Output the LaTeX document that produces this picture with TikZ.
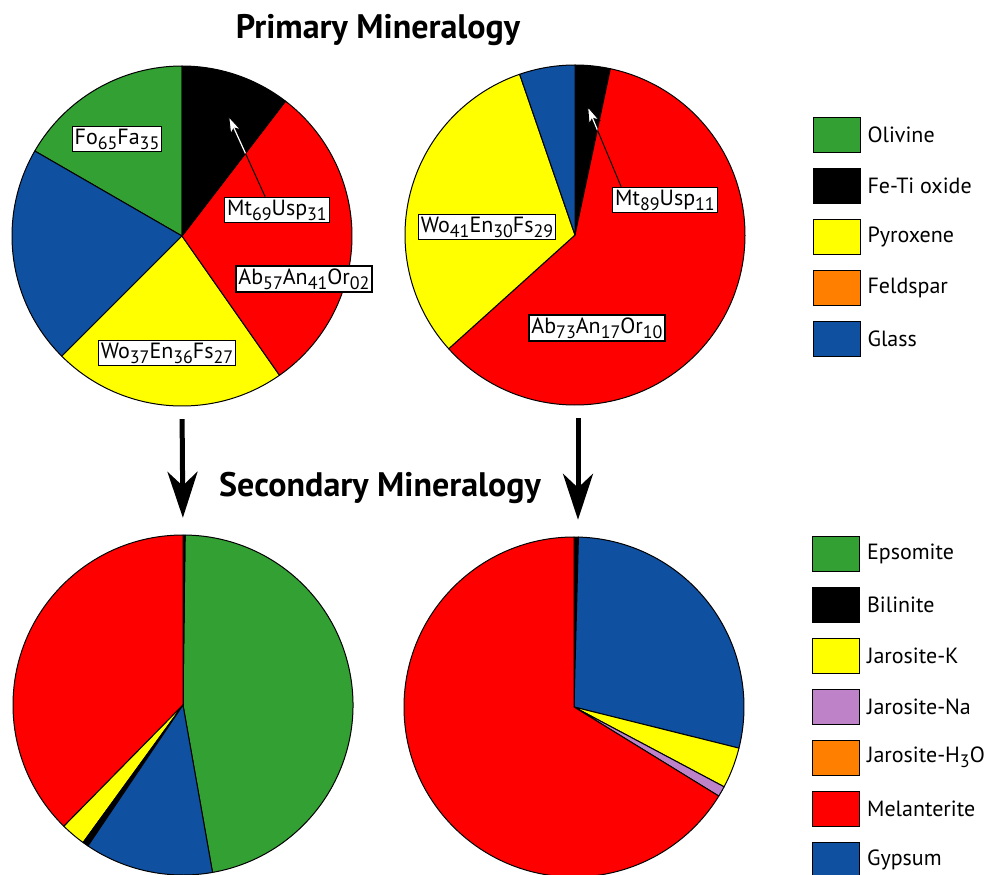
\documentclass[tikz,border=0pt]{standalone}
\usepackage{fontspec}
\setmainfont{PT Sans}
\usepackage{tikz}
\usetikzlibrary{positioning,calc,arrows.meta}
\usepackage{xcolor}

\definecolor{olgreen}{RGB}{51,160,51}
\definecolor{mnred}{RGB}{255,0,0}
\definecolor{pxyellow}{RGB}{255,255,0}
\definecolor{fsorange}{RGB}{255,128,0}
\definecolor{glblue}{RGB}{16,80,160}
\definecolor{jnpurple}{RGB}{190,130,200}

% subscript for mineral formulae
\newcommand{\dn}[1]{\raisebox{-0.45ex}{\fontsize{18}{18}\selectfont #1}}

\begin{document}
\begin{tikzpicture}[x=1pt,y=1pt]
	% styles
	\tikzstyle{slice} = [draw=black,line width=1pt,line join=round]	% pie wedge
	\tikzstyle{piebox} = [circle,minimum size=340pt,inner sep=0pt]	% outline of a pie
	\tikzstyle{formula} = [rectangle,fill=white,draw=black,line width=1.2pt,inner sep=2.5pt,font=\fontsize{22}{22}\selectfont]	% white label
	\tikzstyle{title} = [font=\fontsize{34}{34}\selectfont\bfseries]
	\tikzstyle{legbox} = [rectangle,draw=black,line width=0.8pt,minimum width=47pt,minimum height=35pt,inner sep=0pt]
	\tikzstyle{legtext} = [anchor=west,inner sep=0pt,font=\fontsize{22}{22}\selectfont]
	\tikzstyle{bigarrow} = [line width=5pt,-{Stealth[length=46pt,width=30pt,inset=14pt]}]
	\tikzstyle{pointer} = [line width=1pt,-{Stealth[length=20pt,width=13pt,inset=5pt,fill=white]}]
	\useasboundingbox (0,0) rectangle (997,-875);

	% pies
	\node (p1) [piebox] at (182,-236) {};
	\node (p2) [piebox] at (575,-235) {};
	\node (p3) [piebox] at (183,-705) {};
	\node (p4) [piebox] at (574,-707) {};
	\foreach \a/\b/\c in {90/150/olgreen,150/225/glblue,225/305/pxyellow,305/412.5/mnred,52.5/90/black}
		\draw [slice,fill=\c] (p1.center) -- ++(\a:170) arc (\a:\b:170) -- cycle;
	\foreach \a/\b/\c in {78/90/black,-138/78/mnred,109/222/pxyellow,90/109/glblue}
		\draw [slice,fill=\c] (p2.center) -- ++(\a:170) arc (\a:\b:170) -- cycle;
	\foreach \a/\b/\c in {-80/89.3/olgreen,89.3/90/black,90/225.5/mnred,225.5/234/pxyellow,234/236/black,236/280/glblue}
		\draw [slice,fill=\c] (p3.center) -- ++(\a:170) arc (\a:\b:170) -- cycle;
	\foreach \a/\b/\c in {88.5/90/black,-14/88.5/glblue,-28/-14/pxyellow,-31.6/-28/jnpurple,90/328.4/mnred}
		\draw [slice,fill=\c] (p4.center) -- ++(\a:170) arc (\a:\b:170) -- cycle;

	% formulae
	\node (fo1) [formula] at (117,-139) {Fo\dn{65}Fa\dn{35}};
	\node (mt1) [formula] at (277,-210) {Mt\dn{69}Usp\dn{31}};
	\node (ab1) [formula] at (304,-279) {Ab\dn{57}An\dn{41}Or\dn{02}};
	\node (wo1) [formula] at (167,-353) {Wo\dn{37}En\dn{36}Fs\dn{27}};
	\node (wo2) [formula] at (487,-227) {Wo\dn{41}En\dn{30}Fs\dn{29}};
	\node (mt2) [formula] at (665,-200) {Mt\dn{89}Usp\dn{11}};
	\node (ab2) [formula] at (597,-328) {Ab\dn{73}An\dn{17}Or\dn{10}};

	% pointers into the oxide wedges
	\coordinate (tip1) at (228,-115);
	\coordinate (tip2) at (587,-105);
	\draw [pointer] ([xshift=41pt]mt1.north west) -- (tip1);
	\draw [pointer] ([xshift=9pt]mt2.north west) -- (tip2);
	\begin{scope}
		\clip (p1.center) -- ++(52.5:170) arc (52.5:90:170) -- cycle;
		\draw [white,line width=1.2pt,shorten >=10pt] ([xshift=41pt]mt1.north west) -- (tip1);
	\end{scope}
	\begin{scope}
		\clip (p2.center) -- ++(78:170) arc (78:90:170) -- cycle;
		\draw [white,line width=1.2pt,shorten >=10pt] ([xshift=9pt]mt2.north west) -- (tip2);
	\end{scope}

	% titles and arrows
	\node (prim) [title] at (378,-30) {Primary Mineralogy};
	\node (sec) [title] at (380,-488) {Secondary Mineralogy};
	\draw [bigarrow,shorten <=13pt,shorten >=17pt] (p1.south) -- (p3.north);
	\draw [bigarrow,shorten <=13pt,shorten >=17pt] ([xshift=3pt]p2.south) -- ([xshift=4pt]p4.north);

	% legends
	\foreach \c/\t [count=\i] in {olgreen/Olivine,black/Fe-Ti oxide,pxyellow/Pyroxene,fsorange/Feldspar,glblue/Glass}{
		\node (lp\i) [legbox,fill=\c] at (836.5,{-134.5-51*(\i-1)}) {};
		\node (tp\i) [legtext,right=7pt of lp\i] {\t};
	}
	\foreach \c/\t [count=\i] in {olgreen/Epsomite,black/Bilinite,pxyellow/Jarosite-K,jnpurple/Jarosite-Na,fsorange/Jarosite-H\dn{3}O,mnred/Melanterite,glblue/Gypsum}{
		\node (ls\i) [legbox,fill=\c] at (836,{-553.5-51*(\i-1)}) {};
		\node (ts\i) [legtext,right=7pt of ls\i] {\t};
	}
\end{tikzpicture}
\end{document}
